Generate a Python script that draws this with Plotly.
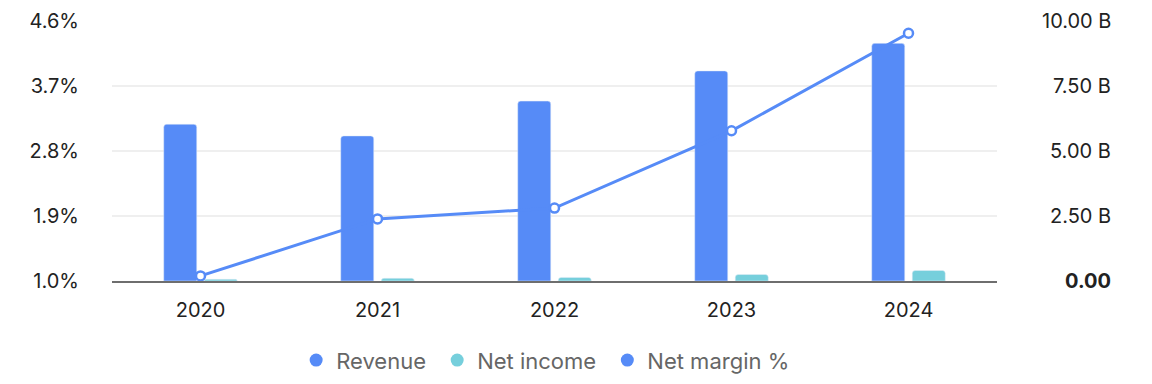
import plotly.graph_objects as go

years = ["2020", "2021", "2022", "2023", "2024"]
revenue = [6.03e9, 5.58e9, 6.92e9, 8.08e9, 9.14e9]
net_income = [0.065e9, 0.104e9, 0.139e9, 0.249e9, 0.405e9]
net_margin = [1.07, 1.86, 2.01, 3.08, 4.43]

left_ticks = [1.0, 1.9, 2.8, 3.7, 4.6]
left_labels = ["1.0%", "1.9%", "2.8%", "3.7%", "4.6%"]
right_ticks = [0, 2.5e9, 5e9, 7.5e9, 10e9]
right_labels = ["<b>0.00</b>", "2.50 B", "5.00 B", "7.50 B", "10.00 B"]

BLUE = "#568bf7"
TEAL = "#76cfdc"
FONT = "Inter"

fig = go.Figure()
fig.add_trace(go.Bar(x=years, y=revenue, name="Revenue", marker=dict(color=BLUE, cornerradius=3),
                     yaxis="y", showlegend=False))
fig.add_trace(go.Bar(x=years, y=net_income, name="Net income", marker=dict(color=TEAL, cornerradius=3),
                     yaxis="y", showlegend=False))
fig.add_trace(go.Scatter(x=years, y=net_margin, name="Net margin %", mode="lines+markers",
                         line=dict(color=BLUE, width=3),
                         marker=dict(symbol="circle", size=9, color="white", line=dict(color=BLUE, width=2.5)),
                         yaxis="y2", showlegend=False, cliponaxis=False))

# legend entries (circles)
for name, col in [("Revenue ", BLUE), ("Net income ", TEAL), ("Net margin %", BLUE)]:
    fig.add_trace(go.Scatter(x=[None], y=[None], mode="markers", name=name,
                             marker=dict(symbol="circle", size=13, color=col), yaxis="y"))

for v, t in zip(right_ticks, right_labels):
    fig.add_annotation(x=1.131, xref="paper", y=v, yref="y", text=t, showarrow=False,
                       xanchor="right", yanchor="middle",
                       font=dict(family=FONT, size=20, color="#222"))

fig.update_layout(
    width=1152, height=384,
    margin=dict(l=112, r=155, t=21, b=103, autoexpand=False),
    paper_bgcolor="white", plot_bgcolor="white",
    barmode="group", bargap=0.542, bargroupgap=0.185,
    font=dict(family=FONT, size=20, color="#222"),
    xaxis=dict(type="category", showgrid=False, showline=True, linecolor="#6e6e6e", linewidth=2,
               ticks="outside", ticklen=10, tickcolor="rgba(0,0,0,0)", automargin=False,
               tickfont=dict(family=FONT, size=20, color="#222")),
    yaxis=dict(side="right", range=[0, 10e9], tickvals=right_ticks, showticklabels=False, automargin=False,
               showgrid=True, gridcolor="#efefef", gridwidth=1.5, zeroline=False, showline=False),
    yaxis2=dict(overlaying="y", side="left", range=[1.0, 4.6], tickvals=left_ticks, ticktext=left_labels,
                showgrid=False, zeroline=False, showline=False, automargin=False,
                ticks="outside", ticklen=28, tickcolor="rgba(0,0,0,0)",
                tickfont=dict(family=FONT, size=20, color="#222")),
    legend=dict(orientation="h", x=0.49, xanchor="center",
                y=-0.305, yanchor="middle",
                font=dict(family=FONT, size=22, color="#666"), itemsizing="trace"),
)

fig.write_html("out.html")
